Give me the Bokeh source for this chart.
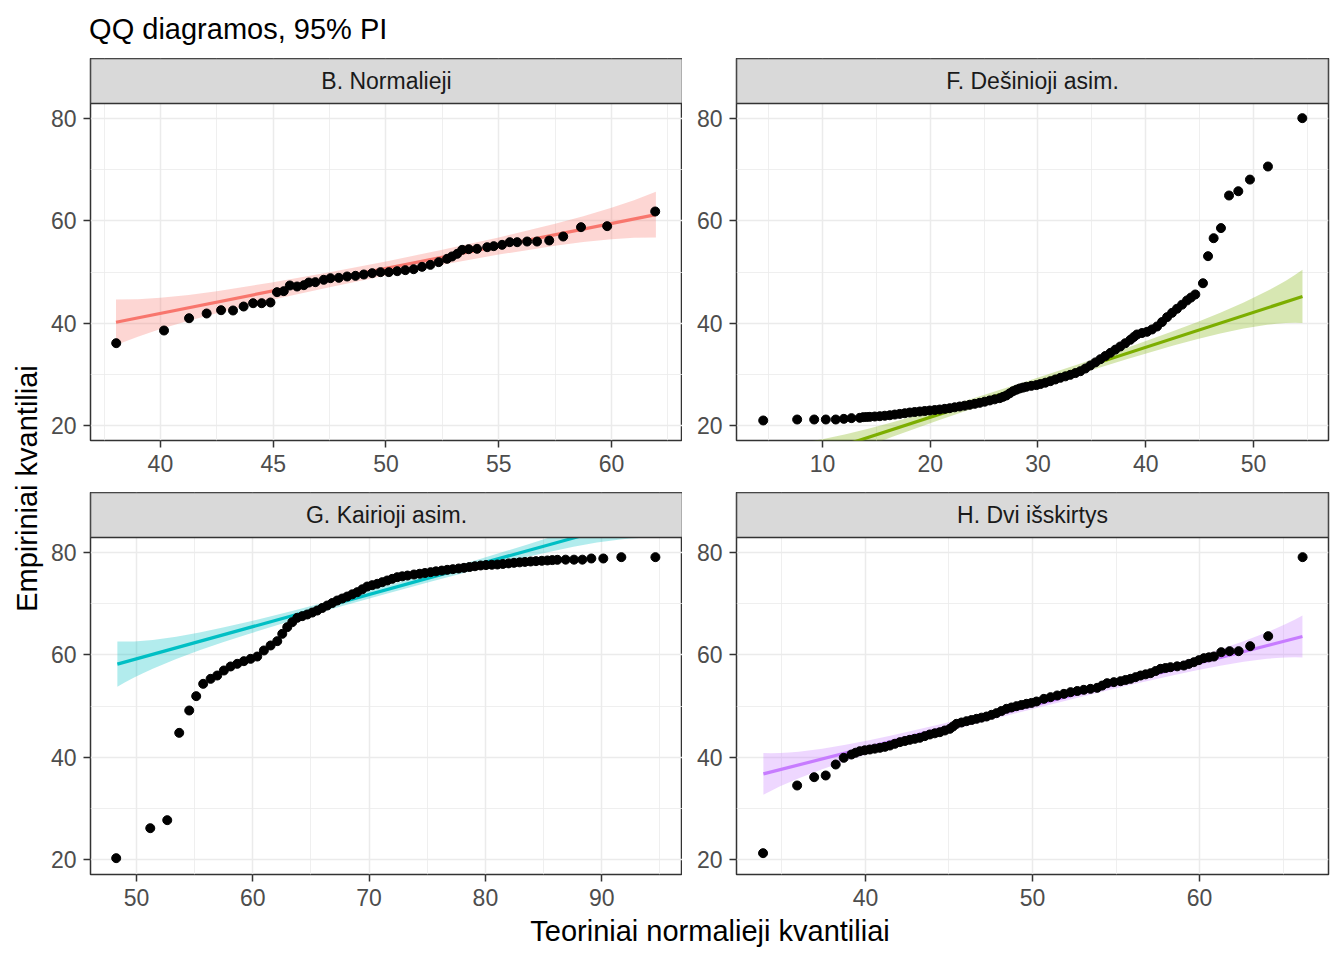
import math
from bokeh.plotting import figure
from bokeh.layouts import row, column
from bokeh.models import Range1d, FixedTicker
from bokeh.embed import file_html
from bokeh.resources import INLINE
from bokeh.core.properties import value

FONT = "Liberation Sans"

# ---------------- data ----------------
# Panel B. Normalieji
B_X = [38.04, 40.16, 41.27, 42.05, 42.69, 43.22, 43.69, 44.11, 44.49, 44.88,
       45.17, 45.47, 45.74, 46.06, 46.36, 46.58, 46.87, 47.24, 47.54, 47.91,
       48.28, 48.65, 49.02, 49.39, 49.76, 50.13, 50.5, 50.86, 51.23, 51.6,
       51.97, 52.34, 52.71, 52.93, 53.16, 53.38, 53.67, 54.04, 54.49, 54.78,
       55.15, 55.49, 55.82, 56.26, 56.7, 57.24, 57.86, 58.65, 59.81, 61.94]
B_Y = [36.06, 38.54, 40.95, 41.87, 42.52, 42.46, 43.24, 43.89, 43.89, 44.03,
       46.05, 46.25, 47.36, 47.16, 47.42, 47.94, 48.01, 48.47, 48.79, 48.86,
       49.12, 49.25, 49.51, 49.77, 49.97, 49.97, 50.16, 50.36, 50.55, 51.01,
       51.4, 51.93, 52.58, 53.04, 53.56, 54.34, 54.47, 54.54, 54.86, 55.06,
       55.32, 55.84, 55.84, 55.97, 55.97, 56.17, 56.95, 58.78, 58.98, 61.85]
B_BAND_X = [38.03, 39.0, 40.0, 41.25, 42.5, 45.0, 47.5, 50.0, 52.5, 55.0, 57.5, 58.75, 60.0, 61.0, 61.97]
B_BAND_LO = [35.69, 37.34, 38.82, 40.46, 41.94, 44.61, 47.03, 49.30, 51.43, 53.41, 55.14, 55.86, 56.42, 56.70, 56.76]
B_BAND_HI = [44.63, 44.68, 44.96, 45.52, 46.24, 47.97, 49.95, 52.08, 54.35, 56.77, 59.44, 60.92, 62.56, 64.04, 65.70]
B_LINE_X = [38.03, 61.97]
B_LINE_Y = [40.16, 61.23]

# Panel F. Dešinioji asim.
F_X = [4.5, 7.65, 9.23, 10.31, 11.23, 11.98, 12.69, 13.46, 13.77, 14.08,
       14.39, 14.85, 15.32, 15.78, 16.25, 16.71, 17.17, 17.64, 18.1, 18.56,
       19.03, 19.49, 19.95, 20.42, 20.88, 21.35, 21.81, 22.27, 22.74, 23.2,
       23.66, 24.13, 24.59, 25.05, 25.52, 25.98, 26.45, 26.76, 27.07, 27.38,
       27.69, 28.0, 28.3, 28.61, 28.92, 29.38, 29.85, 30.22, 30.68, 31.15,
       31.61, 32.08, 32.54, 33.0, 33.47, 33.93, 34.4, 34.86, 35.33, 35.79,
       36.25, 36.72, 37.18, 37.64, 38.1, 38.57, 38.88, 39.19, 39.65, 40.12,
       40.58, 41.05, 41.51, 41.98, 42.44, 42.9, 43.37, 43.83, 44.2, 44.6,
       45.31, 45.78, 46.3, 46.98, 47.73, 48.59, 49.67, 51.34, 54.53]
F_Y = [20.92, 21.11, 21.11, 21.11, 21.11, 21.24, 21.38, 21.44, 21.57, 21.6,
       21.63, 21.7, 21.76, 21.85, 21.95, 22.08, 22.21, 22.34, 22.48, 22.58,
       22.68, 22.78, 22.87, 22.97, 23.07, 23.2, 23.33, 23.5, 23.66, 23.82,
       23.99, 24.18, 24.38, 24.6, 24.84, 25.06, 25.29, 25.55, 25.82, 26.25,
       26.66, 26.95, 27.19, 27.36, 27.52, 27.7, 27.85, 28.05, 28.32, 28.62,
       28.95, 29.28, 29.56, 29.86, 30.2, 30.57, 31.1, 31.69, 32.3, 32.92,
       33.55, 34.17, 34.8, 35.41, 36.05, 36.72, 37.25, 37.76, 38.05, 38.29,
       38.75, 39.33, 40.2, 41.16, 42.0, 42.8, 43.6, 44.43, 45.0, 45.6,
       47.8, 53.1, 56.62, 58.6, 64.98, 65.82, 68.1, 70.66, 80.13]
F_BAND_X = [4.525, 5.203, 6.072, 6.941, 7.81, 9.983, 12.155, 14.33, 16.5, 20.845, 25.19, 29.535,
            33.88, 38.225, 42.57, 44.74, 46.915, 49.09, 51.26, 52.13, 53.0, 53.87, 54.545]
F_BAND_LO = [5.73, 6.70, 7.85, 8.90, 9.90, 12.14, 14.13, 15.99, 17.73, 21.02, 24.13, 27.16,
             30.09, 32.92, 35.59, 36.83, 37.95, 38.92, 39.66, 39.86, 39.99, 40.04, 39.99]
F_BAND_HI = [16.17, 16.12, 16.17, 16.30, 16.50, 17.24, 18.21, 19.33, 20.57, 23.24, 26.07, 29.00,
             32.03, 35.14, 38.43, 40.17, 42.03, 44.02, 46.26, 47.26, 48.31, 49.46, 50.43]
F_LINE_X = [4.525, 54.545]
F_LINE_Y = [10.95, 45.21]

# Panel G. Kairioji asim.
G_X = [48.25, 51.18, 52.64, 53.67, 54.53, 55.13, 55.73, 56.37, 56.94, 57.51,
       58.09, 58.66, 59.23, 59.81, 60.38, 60.95, 61.53, 62.1, 62.53, 62.96,
       63.39, 63.82, 64.25, 64.68, 65.11, 65.54, 65.97, 66.4, 66.83, 67.26,
       67.69, 68.12, 68.55, 68.98, 69.41, 69.84, 70.27, 70.7, 71.13, 71.56,
       71.99, 72.42, 72.85, 73.3, 73.86, 74.35, 74.8, 75.29, 75.75, 76.25,
       76.72, 77.2, 77.7, 78.16, 78.63, 79.1, 79.59, 80.05, 80.55, 81.03,
       81.5, 82.0, 82.46, 82.95, 83.4, 83.89, 84.35, 84.85, 85.33, 85.75,
       86.19, 86.9, 87.62, 88.34, 89.11, 90.14, 91.69, 94.62]
G_Y = [20.2, 26.07, 27.64, 44.74, 49.12, 51.93, 54.34, 55.32, 55.97, 56.95,
       57.74, 58.26, 58.78, 59.24, 59.69, 60.87, 61.85, 62.7, 64.13, 65.44,
       66.42, 67.27, 67.6, 67.92, 68.3, 68.7, 69.2, 69.68, 70.17, 70.66,
       71.05, 71.44, 71.87, 72.29, 72.85, 73.4, 73.67, 73.93, 74.25, 74.58,
       74.9, 75.23, 75.4, 75.55, 75.75, 75.9, 76.05, 76.21, 76.37, 76.52,
       76.67, 76.8, 76.93, 77.06, 77.22, 77.37, 77.52, 77.6, 77.66, 77.71,
       77.82, 77.93, 78.04, 78.13, 78.22, 78.3, 78.37, 78.44, 78.5, 78.57,
       78.63, 78.66, 78.66, 78.66, 78.89, 78.89, 79.15, 79.15]
G_BAND_X = [48.35, 48.98, 49.79, 50.6, 51.395, 53.41, 55.415, 57.425, 59.435, 63.455, 67.475, 71.495,
            75.515, 79.535, 83.555, 85.565, 87.575, 89.585, 91.595, 92.4, 93.2, 94.01, 94.64]
G_BAND_LO = [53.76, 54.59, 55.56, 56.46, 57.31, 59.21, 60.92, 62.49, 63.97, 66.77, 69.43, 71.99,
             74.49, 76.90, 79.17, 80.21, 81.18, 82.01, 82.63, 82.80, 82.92, 82.95, 82.92]
G_BAND_HI = [62.64, 62.61, 62.64, 62.76, 62.93, 63.55, 64.38, 65.35, 66.39, 68.67, 71.07, 73.57,
             76.13, 78.80, 81.59, 83.07, 84.64, 86.35, 88.25, 89.10, 90.00, 90.97, 91.80]
G_LINE_X = [48.35, 94.64]
G_LINE_Y = [58.2, 87.36]

# Panel H. Dvi išskirtys
H_X = [33.87, 35.91, 36.93, 37.62, 38.22, 38.7, 39.16, 39.41, 39.66, 39.96,
       40.26, 40.56, 40.86, 41.16, 41.46, 41.76, 42.06, 42.36, 42.65, 42.95,
       43.25, 43.55, 43.85, 44.15, 44.45, 44.75, 45.05, 45.25, 45.45, 45.75,
       46.05, 46.35, 46.65, 46.95, 47.25, 47.55, 47.84, 48.14, 48.44, 48.74,
       49.04, 49.34, 49.64, 49.94, 50.24, 50.68, 51.08, 51.48, 51.88, 52.28,
       52.68, 53.07, 53.47, 53.87, 54.17, 54.47, 54.87, 55.27, 55.57, 55.87,
       56.17, 56.47, 56.77, 57.07, 57.37, 57.66, 57.96, 58.26, 58.66, 59.06,
       59.36, 59.66, 59.96, 60.26, 60.56, 60.86, 61.3, 61.8, 62.34, 63.03,
       64.11, 66.17]
H_Y = [21.18, 34.43, 36.06, 36.39, 38.54, 39.85, 40.5, 40.85, 41.15, 41.33,
       41.48, 41.65, 41.81, 42.0, 42.26, 42.6, 42.92, 43.15, 43.37, 43.57,
       43.77, 44.1, 44.42, 44.65, 44.87, 45.2, 45.53, 46.0, 46.51, 46.77,
       47.03, 47.26, 47.49, 47.72, 47.94, 48.27, 48.6, 49.02, 49.45, 49.71,
       49.97, 50.2, 50.43, 50.6, 50.88, 51.4, 51.73, 52.06, 52.38, 52.71,
       52.94, 53.17, 53.36, 53.56, 54.0, 54.47, 54.67, 54.86, 55.1, 55.32,
       55.65, 55.97, 56.2, 56.43, 56.85, 57.28, 57.44, 57.6, 57.77, 57.93,
       58.25, 58.58, 58.98, 59.37, 59.53, 59.69, 60.54, 60.74, 60.74, 61.72,
       63.68, 79.15]
H_BAND_X = [33.89, 34.33, 34.89, 35.45, 36.01, 37.41, 38.81, 40.22, 41.62, 44.42, 47.22, 50.025,
            52.83, 55.63, 58.43, 59.835, 61.24, 62.64, 64.04, 64.6, 65.16, 65.72, 66.16]
H_BAND_LO = [32.60, 33.36, 34.26, 35.08, 35.86, 37.62, 39.20, 40.65, 42.02, 44.60, 47.05, 49.42,
             51.73, 53.95, 56.04, 57.01, 57.90, 58.66, 59.24, 59.40, 59.50, 59.54, 59.50]
H_BAND_HI = [40.80, 40.76, 40.80, 40.90, 41.06, 41.64, 42.40, 43.29, 44.26, 46.36, 48.57, 50.88,
             53.25, 55.71, 58.28, 59.65, 61.10, 62.68, 64.44, 65.22, 66.04, 66.94, 67.70]
H_LINE_X = [33.89, 66.16]
H_LINE_Y = [36.7, 63.6]

STRIPS = ["B. Normalieji", "F. Dešinioji asim.", "G. Kairioji asim.", "H. Dvi išskirtys"]
COLORS = ["#F8766D", "#7CAE00", "#00BFC4", "#C77CFF"]
X_TICKS = [[40, 45, 50, 55, 60], [10, 20, 30, 40, 50], [50, 60, 70, 80, 90], [40, 50, 60]]
X_MINOR = [[37.5, 42.5, 47.5, 52.5, 57.5, 62.5], [5, 15, 25, 35, 45, 55],
           [55, 65, 75, 85, 95], [35, 45, 55, 65]]
Y_TICKS = [20, 40, 60, 80]
Y_MINOR = [30, 50, 70]
TITLE = "QQ diagramos, 95% PI"
X_LABEL = "Teoriniai normalieji kvantiliai"
Y_LABEL = "Empiriniai kvantiliai"

# ---------------- layout constants ----------------
X_RANGES = [(36.9, 63.15), (2.02, 56.96), (46.04, 96.95), (32.28, 67.72)]
Y0, YP = 17.0, 83.0
FRAME_W, FRAME_H, STRIP_PX = 592, 382, 45
YEND = YP + STRIP_PX * (YP - Y0) / (FRAME_H - STRIP_PX)


def panel(i, px, py, bx, blo, bhi, lx, ly, bl, br, bb):
    xr = X_RANGES[i]
    color = COLORS[i]
    p = figure(frame_width=FRAME_W, frame_height=FRAME_H,
               x_range=Range1d(*xr), y_range=Range1d(Y0, YEND),
               output_backend="svg", toolbar_location=None,
               min_border_left=bl, min_border_right=br, min_border_top=0, min_border_bottom=bb,
               background_fill_color="white", border_fill_color="white",
               outline_line_color="#333333", outline_line_width=1.5)
    p.varea(x=bx, y1=blo, y2=bhi, fill_color=color, fill_alpha=0.3)
    p.line(lx, ly, line_color=color, line_width=3.2)
    p.scatter(px, py, size=9, fill_color="black", line_color="black", line_width=1)
    p.quad(left=[xr[0]], right=[xr[1]], bottom=[YP], top=[YEND],
           fill_color="#D9D9D9", line_color="#333333", line_width=1.5)
    p.text(x=[(xr[0] + xr[1]) / 2], y=[(YP + YEND) / 2], text=[STRIPS[i]],
           text_align="center", text_baseline="middle",
           text_font=value(FONT), text_font_size="23px", text_color="#1A1A1A")

    xt = FixedTicker(ticks=X_TICKS[i], minor_ticks=X_MINOR[i])
    yt = FixedTicker(ticks=Y_TICKS, minor_ticks=Y_MINOR)
    p.xaxis.ticker = xt
    p.yaxis.ticker = yt
    p.xgrid.ticker = xt
    p.ygrid.ticker = yt
    for g in (p.xgrid, p.ygrid):
        g.grid_line_color = "#EBEBEB"
        g.grid_line_width = 1.5
        g.minor_grid_line_color = "#EBEBEB"
        g.minor_grid_line_width = 0.8
    for ax in (p.xaxis, p.yaxis):
        ax.axis_line_color = None
        ax.major_tick_line_color = "#333333"
        ax.major_tick_line_width = 1.5
        ax.major_tick_out = 7
        ax.major_tick_in = 0
        ax.minor_tick_line_color = None
        ax.major_label_text_font = FONT
        ax.major_label_text_font_size = "23px"
        ax.major_label_text_color = "#4D4D4D"
    p.xaxis.major_label_standoff = 7
    p.yaxis.major_label_standoff = 7
    return p


def blank(w, h):
    f = figure(width=w, height=h, x_range=Range1d(0, w), y_range=Range1d(0, h),
               output_backend="svg", toolbar_location=None, min_border=0,
               x_axis_type=None, y_axis_type=None, outline_line_color=None)
    f.grid.visible = False
    return f


pB = panel(0, B_X, B_Y, B_BAND_X, B_BAND_LO, B_BAND_HI, B_LINE_X, B_LINE_Y, 46, 0, 52)
pF = panel(1, F_X, F_Y, F_BAND_X, F_BAND_LO, F_BAND_HI, F_LINE_X, F_LINE_Y, 54, 8, 52)
pG = panel(2, G_X, G_Y, G_BAND_X, G_BAND_LO, G_BAND_HI, G_LINE_X, G_LINE_Y, 46, 0, 40)
pH = panel(3, H_X, H_Y, H_BAND_X, H_BAND_LO, H_BAND_HI, H_LINE_X, H_LINE_Y, 54, 8, 40)

# page frame: the 8px page margin is built into these helper strips
title_fig = blank(1336, 58)
title_fig.text(x=[88.6], y=[30], text=[TITLE], text_align="left", text_baseline="middle",
               text_font=value(FONT), text_font_size="29px", text_color="black")

ylab_fig = blank(44, 856)
ylab_fig.text(x=[26.5], y=[426], text=[Y_LABEL], angle=math.pi / 2, text_align="center",
              text_baseline="middle", text_font=value(FONT), text_font_size="29px",
              text_color="black")

xlab_fig = blank(1336, 38)
xlab_fig.text(x=[709.5], y=[22], text=[X_LABEL], text_align="center", text_baseline="middle",
              text_font=value(FONT), text_font_size="29px", text_color="black")

layout = column(title_fig,
                row(ylab_fig, column(row(pB, pF), row(pG, pH))),
                xlab_fig)

open("out.html", "w").write(file_html(layout, INLINE))
